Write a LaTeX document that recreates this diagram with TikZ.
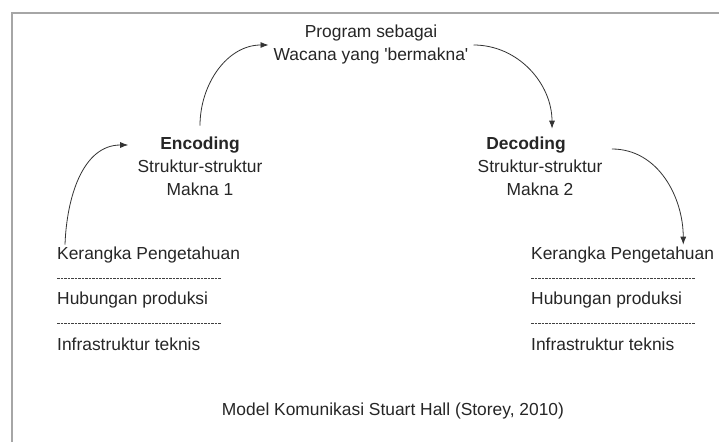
\documentclass[tikz,border=0pt]{standalone}
\usepackage{fontspec}
\setmainfont{Liberation Sans}
\usetikzlibrary{positioning,arrows.meta}
\tikzset{
	txt/.style={font=\fontsize{17.4}{23}\selectfont,text=black!85,inner sep=2pt,align=center},
	lst/.style={txt,anchor=west},
	flow/.style={-{Latex[length=8pt,width=6pt]},draw=black!80,line width=0.8pt},
	sepline/.style={draw=black!75,line width=0.8pt,dash pattern=on 2.5pt off 1pt},
	frm/.style={draw=black!35,line width=2.5pt}
}

\begin{document}
\begin{tikzpicture}[x=1pt,y=1pt]
	\useasboundingbox[fill=white] (0,0) rectangle (719,442);
	\draw[frm] (12,0) -- (12,429) -- (719,429);
	\node[txt] (prog) at (371,397) {Program sebagai\\Wacana yang \textquotesingle bermakna\textquotesingle};
	\node[txt,font=\fontsize{17.4}{23}\selectfont\bfseries] (encT) at (200,297) {Encoding};
	\node[txt,below=2pt of encT] (encB) {Struktur-struktur\\Makna 1};
	\node[txt,font=\fontsize{17.4}{23}\selectfont\bfseries] (decT) at (526,297) {Decoding};
	\node[txt,below=2pt of decT,xshift=14pt] (decB) {Struktur-struktur\\Makna 2};
	\node[lst] (kerL) at (55,187) {Kerangka Pengetahuan};
	\node[lst] (hubL) at (55,142) {Hubungan produksi};
	\node[lst] (infL) at (55,98) {Infrastruktur teknis};
	\node[lst] (kerR) at (529,187) {Kerangka Pengetahuan};
	\node[lst] (hubR) at (529,142) {Hubungan produksi};
	\node[lst] (infR) at (529,98) {Infrastruktur teknis};
	\draw[sepline] (57,164) -- (221,164);	\draw[sepline] (57,119) -- (221,119);
	\draw[sepline] (531,164) -- (695,164);	\draw[sepline] (531,119) -- (695,119);
	\node[txt] (cap) at (393,31) {Model Komunikasi Stuart Hall (Storey, 2010)};
	\draw[flow] ([xshift=10pt]kerL.north west) to[out=88,in=180] ([xshift=-30pt]encT.west);
	\draw[flow] ([yshift=9pt]encT.north) to[out=90,in=180] ([xshift=-3pt]prog.west);
	\draw[flow] ([xshift=3pt]prog.east) to[out=0,in=90] ([xshift=26pt,yshift=6pt]decT.north);
	\draw[flow] ([xshift=44pt,yshift=-4pt]decT.east) to[out=0,in=90] ([xshift=-33pt]kerR.north east);
\end{tikzpicture}
\end{document}
